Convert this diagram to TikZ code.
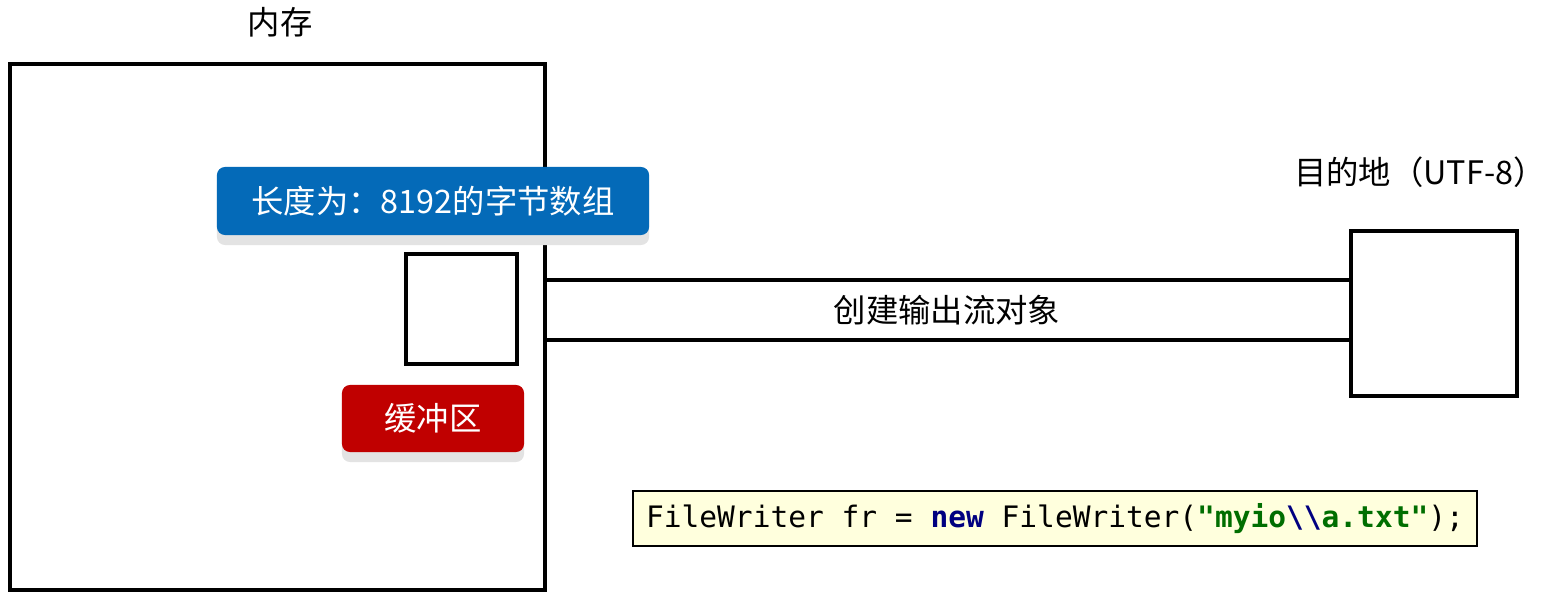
\documentclass[tikz,border=0pt]{standalone}
\usepackage{fontspec}
\setmainfont{Noto Sans CJK SC}
\newfontfamily\codefont{DejaVu Sans Mono}
\usetikzlibrary{shadows}

\definecolor{tagblue}{RGB}{4,106,184}
\definecolor{tagred}{RGB}{192,0,0}
\definecolor{codebg}{RGB}{255,255,221}
\definecolor{kwblue}{RGB}{0,0,128}
\definecolor{strgreen}{RGB}{0,110,0}

\tikzset{
    box/.style={draw, line width=3.3pt, inner sep=0pt},
    tag/.style={fill=#1, text=white, rounded corners=0.2cm, inner sep=0pt,
        drop shadow={shadow xshift=0pt, shadow yshift=-0.25cm, fill=black!11, opacity=1}},
    caption/.style={font=\fontsize{23}{27}\selectfont}
}

\begin{document}
\begin{tikzpicture}[x=0.025cm, y=-0.025cm]
    \useasboundingbox (0,0) rectangle (1549,604);

    % Memory side
    \node[box, minimum width=13.375cm, minimum height=13.15cm] (mem) at (277.5,327) {};
    \node[caption] (memlabel) at (280,22) {内存};

    \node[tag=tagblue, caption, minimum width=10.8cm, minimum height=1.7cm] (arr) at (433,201) {长度为：8192的字节数组};
    \node[box, minimum width=2.775cm, minimum height=2.75cm] (buf) at (461.5,309) {};
    \node[tag=tagred, caption, minimum width=4.55cm, minimum height=1.675cm] (buflabel) at (433,418.5) {缓冲区};

    % Destination side
    \node[box, minimum width=4.15cm, minimum height=4.125cm] (dest) at (1434,313.5) {};
    \node[caption, anchor=east, inner sep=0pt] (destlabel) at (1546,172) {目的地（UTF-8）};

    % Stream between them
    \draw[line width=3.3pt] (mem.east |- 0,280) -- (dest.west |- 0,280);
    \draw[line width=3.3pt] (mem.east |- 0,340) -- (dest.west |- 0,340);
    \node[caption] (stream) at (947,310) {创建输出流对象};

    % Code
    \node[draw, line width=1.4pt, fill=codebg, minimum width=21.1cm, minimum height=1.375cm,
        font=\codefont\fontsize{21}{25}\selectfont] (code) at (1055,518.5)
        {FileWriter fr = \textcolor{kwblue}{\bfseries new} FileWriter(\textcolor{strgreen}{\bfseries "myio}\textcolor{kwblue}{\bfseries\textbackslash\textbackslash}\textcolor{strgreen}{\bfseries a.txt"});};
\end{tikzpicture}
\end{document}
